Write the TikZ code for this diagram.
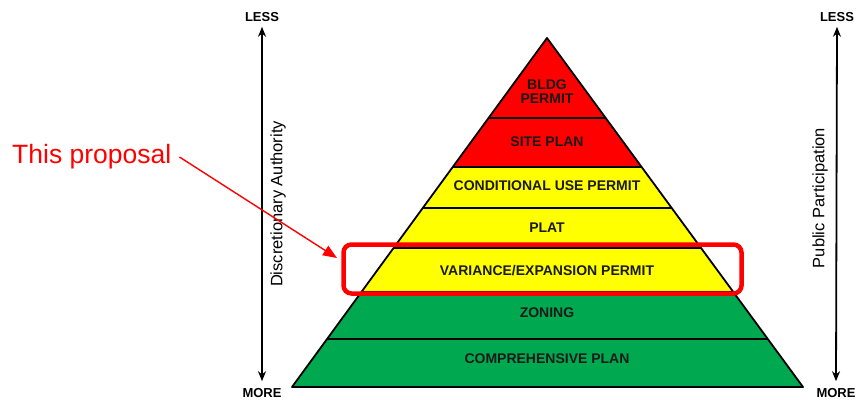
\documentclass[tikz,border=0pt]{standalone}
\usepackage{fontspec}
\setmainfont{Liberation Sans}
\usetikzlibrary{calc,arrows.meta}
\definecolor{bandred}{HTML}{FF0000}
\definecolor{bandyellow}{HTML}{FFFF00}
\definecolor{bandgreen}{HTML}{00A84F}
\definecolor{txt}{HTML}{1A1A1A}
\tikzset{
  band/.style={draw=black,line width=1.8pt,line join=round},
  lbl/.style={font=\bfseries\fontsize{14}{15}\selectfont,text=txt,align=center,inner sep=0pt},
  axlbl/.style={font=\bfseries\fontsize{13}{14}\selectfont,inner sep=0pt},
  axis/.style={line width=1.8pt,{Stealth[length=10pt,width=8pt]}-{Stealth[length=10pt,width=8pt]}},
  sidelbl/.style={font=\fontsize{16.5}{18}\selectfont,rotate=90,inner sep=0pt}
}
\begin{document}
\begin{tikzpicture}[x=1pt,y=-1pt]
\useasboundingbox (0,0) rectangle (859,399);
\coordinate (apex) at (547,38);
\coordinate (bl) at (292,387);
\coordinate (br) at (803,387);
% band boundary points
\foreach \n/\t in {a/0.2292,b/0.3696,c/0.4871,d/0.6017,e/0.7278,f/0.8625}{
  \coordinate (L\n) at ($(apex)!\t!(bl)$);
  \coordinate (R\n) at ($(apex)!\t!(br)$);
}
\fill[bandred] (apex) -- (Lb) -- (Rb) -- cycle;
\fill[bandyellow] (Lb) -- (Le) -- (Re) -- (Rb) -- cycle;
\fill[bandgreen] (Le) -- (bl) -- (br) -- (Re) -- cycle;
\draw[band] (La) -- (Ra) (Lb) -- (Rb) (Lc) -- (Rc) (Ld) -- (Rd) (Le) -- (Re) (Lf) -- (Rf);
\draw[band] (apex) -- (bl) -- (br) -- cycle;
% labels
\node[lbl] (bldg) at (547,92) {BLDG\\[-1pt]PERMIT};
\node[lbl] (site) at (547,142) {SITE PLAN};
\node[lbl] (cup) at (547,186) {CONDITIONAL USE PERMIT};
\node[lbl] (plat) at (547,228) {PLAT};
\node[lbl] (var) at (547,271) {VARIANCE/EXPANSION PERMIT};
\node[lbl] (zon) at (547,313) {ZONING};
\node[lbl] (comp) at (547,359) {COMPREHENSIVE PLAN};
% axes
\node[axlbl] (lessL) at (262,17) {LESS};
\node[axlbl] (moreL) at (262,393) {MORE};
\node[axlbl] (lessR) at (837,17) {LESS};
\node[axlbl] (moreR) at (836,393) {MORE};
\draw[axis] ([yshift=-5pt]lessL.south) -- ([yshift=7pt]moreL.north);
\draw[axis] ([yshift=-5pt]lessR.south) -- ([yshift=7pt]moreR.north);
\node[sidelbl] (disc) at (278,204) {Discretionary Authority};
\node[sidelbl] (pub) at (820,198) {Public Participation};
% highlight
\node[draw=red,line width=4.5pt,rounded corners=8pt,minimum width=398pt,minimum height=49pt,inner sep=0pt] (hl) at (542.5,269) {};
\node[text=red,font=\fontsize{26.5}{30}\selectfont,inner sep=0pt,anchor=west] (prop) at (12,157) {This proposal};
\coordinate (tip) at (337,258);
\draw[red,line width=1.4pt,-{Triangle[length=14pt,width=11pt]}] ([xshift=8pt]prop.east) -- (tip);
\end{tikzpicture}
\end{document}
